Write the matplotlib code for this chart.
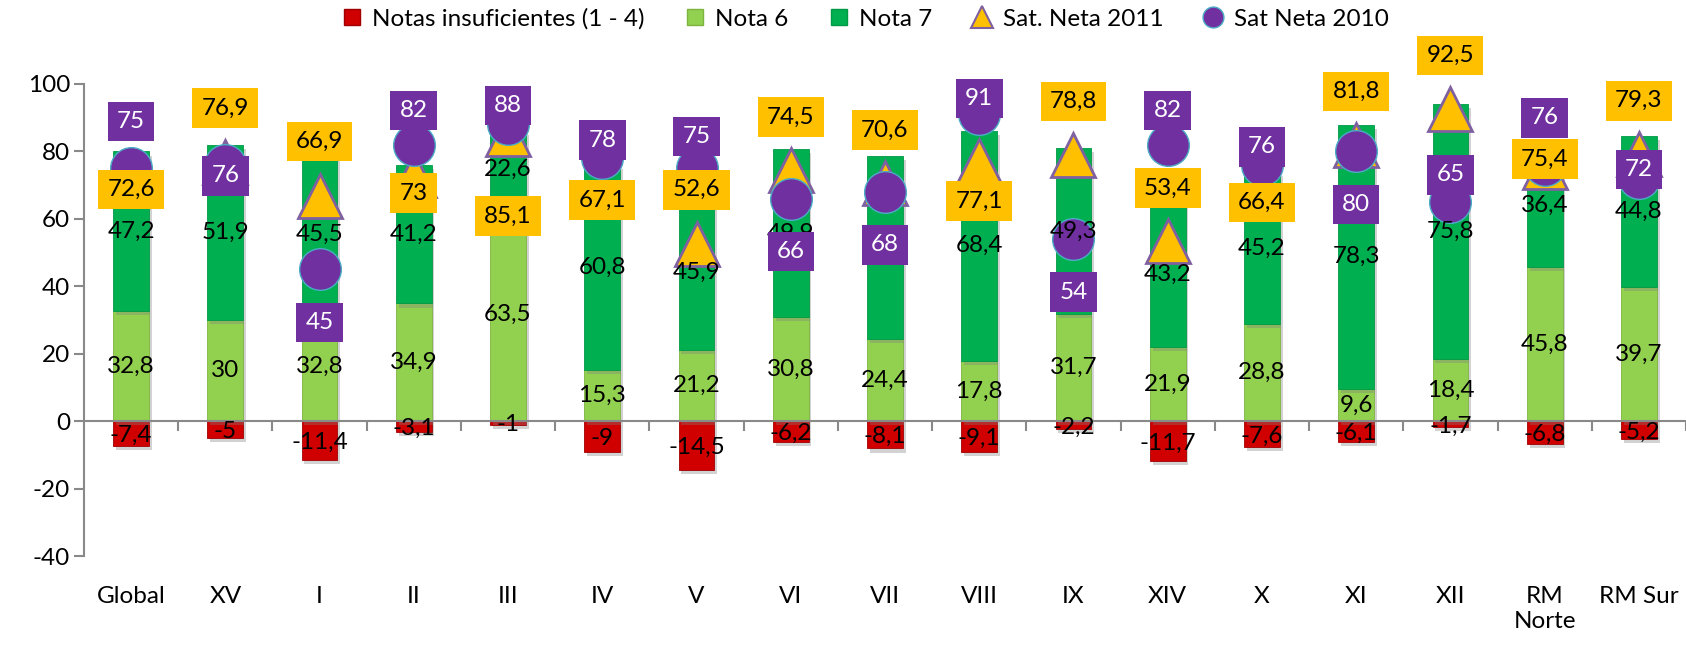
import numpy as np
import matplotlib
matplotlib.use("Agg")
import matplotlib.pyplot as plt
import matplotlib.patheffects as pe
from matplotlib.lines import Line2D

plt.rcParams["font.family"] = ["Lato", "DejaVu Sans"]
plt.rcParams["axes.unicode_minus"] = False

categories = ["Global", "XV", "I", "II", "III", "IV", "V", "VI", "VII", "VIII",
              "IX", "XIV", "X", "XI", "XII", "RM\nNorte", "RM Sur"]

insuficientes = [-7.4, -5, -11.4, -3.1, -1, -9, -14.5, -6.2, -8.1, -9.1,
                 -2.2, -11.7, -7.6, -6.1, -1.7, -6.8, -5.2]
nota6 = [32.8, 30, 32.8, 34.9, 63.5, 15.3, 21.2, 30.8, 24.4, 17.8,
         31.7, 21.9, 28.8, 9.6, 18.4, 45.8, 39.7]
nota7 = [47.2, 51.9, 45.5, 41.2, 22.6, 60.8, 45.9, 49.9, 54.3, 68.4,
         49.3, 43.2, 45.2, 78.3, 75.8, 36.4, 44.8]
sat_2011 = [72.6, 76.9, 66.9, 73, 85.1, 67.1, 52.6, 74.5, 70.6, 77.1,
            78.8, 53.4, 66.4, 81.8, 92.5, 75.4, 79.3]
sat_2010 = [75, 76, 45, 82, 88, 78, 75, 66, 68, 91,
            54, 82, 76, 80, 65, 76, 72]

# label offsets (pixels, up is positive), as dragged in the original
dy_2011 = [-13, 54, 54, -18, -82, -5, 54, 53, 53, -40, 54, 53, -5, 54, 54, 8, 53]
dy_2010 = [47, -11, -53, 34, 19, 18, 32, -53, -53, 16, -53, 34, 18, -53, 27, 47, 9]

RED = "#D00000"
LGREEN = "#92D050"
GREEN = "#00B050"
YELLOW = "#FFC000"
PURPLE = "#7030A0"
GRAY = "#898989"
FS = 17.5


def fmt(v):
    return f"{v:g}".replace(".", ",")


fig = plt.figure(figsize=(16.86, 6.47), dpi=100)
ax = fig.add_axes([0.0498, 0.1406, 0.9502, 0.7296])

x = np.arange(len(categories))
w = 0.38
shadow = [pe.SimplePatchShadow(offset=(2, -3), shadow_rgbFace="#808080", alpha=0.35), pe.Normal()]

b_ins = ax.bar(x, insuficientes, w, color=RED, edgecolor="#A00000", lw=0.6, zorder=2)
b_n6 = ax.bar(x, nota6, w, color=LGREEN, edgecolor="#7DB33F", lw=0.6, zorder=2)
b_n7 = ax.bar(x, nota7, w, bottom=nota6, color=GREEN, edgecolor="#009A45", lw=0.6, zorder=2)
for bars in (b_ins, b_n6, b_n7):
    for p in bars:
        p.set_path_effects(shadow)

ax.plot(x, sat_2011, ls="", marker="^", ms=32, mfc=YELLOW, mec="#7F60A0", mew=2,
        zorder=3, clip_on=False)
ax.plot(x, sat_2010, ls="", marker="o", ms=30, mfc=PURPLE, mec="#4BACC6", mew=1,
        zorder=4, clip_on=False)

# values inside the bars
for i in range(len(x)):
    ax.text(x[i], insuficientes[i] / 2 - 0.6, fmt(insuficientes[i]), ha="center", va="center",
            fontsize=FS, zorder=5)
    ax.text(x[i], nota6[i] / 2, fmt(nota6[i]), ha="center", va="center", fontsize=FS, zorder=5)
    ax.text(x[i], nota6[i] + nota7[i] / 2, fmt(nota7[i]), ha="center", va="center",
            fontsize=FS, zorder=5)

# boxed labels for the satisfaction markers
for i in range(len(x)):
    ax.annotate(fmt(sat_2011[i]), (x[i], sat_2011[i]), xytext=(0, dy_2011[i]),
                textcoords="offset pixels", ha="center", va="center", fontsize=FS,
                color="black", zorder=6, annotation_clip=False,
                bbox=dict(boxstyle="square,pad=0.38", fc=YELLOW, ec="none"))
    ax.annotate(fmt(sat_2010[i]), (x[i], sat_2010[i]), xytext=(0, dy_2010[i]),
                textcoords="offset pixels", ha="center", va="center", fontsize=FS,
                color="white", zorder=6, annotation_clip=False,
                bbox=dict(boxstyle="square,pad=0.38", fc=PURPLE, ec="none"))

ax.set_xlim(-0.5, len(x) - 0.5)
ax.set_ylim(-40, 100)
ax.set_yticks(range(-40, 101, 20))

for s in ("top", "right"):
    ax.spines[s].set_visible(False)
ax.spines["left"].set_color(GRAY)
ax.spines["left"].set_linewidth(1.5)
ax.spines["bottom"].set_position(("data", 0))
ax.spines["bottom"].set_color(GRAY)
ax.spines["bottom"].set_linewidth(1.5)
ax.spines["bottom"].set_zorder(2.5)

ax.set_xticks(x, categories)
ax.set_xticks(np.arange(0.5, len(x), 1), minor=True)
ax.tick_params(axis="x", which="major", length=0, pad=119, labelsize=FS)
ax.tick_params(axis="x", which="minor", length=7, width=1.5, color=GRAY, direction="out")
ax.tick_params(axis="y", length=7, width=1.5, color=GRAY, direction="out", pad=3, labelsize=FS)

handles = [
    Line2D([], [], ls="", marker="s", ms=12, mfc=RED, mec="#A00000"),
    Line2D([], [], ls="", marker="s", ms=12, mfc=LGREEN, mec="#7DB33F"),
    Line2D([], [], ls="", marker="s", ms=12, mfc=GREEN, mec="#009A45"),
    Line2D([], [], ls="", marker="^", ms=16, mfc=YELLOW, mec="#7F60A0", mew=1.5),
    Line2D([], [], ls="", marker="o", ms=15, mfc=PURPLE, mec="#4BACC6"),
]
labels = ["Notas insuficientes (1 - 4)", "Nota 6", "Nota 7", "Sat. Neta 2011", "Sat Neta 2010"]
fig.legend(handles, labels, loc="center", bbox_to_anchor=(0.513, 0.971), ncol=5,
           frameon=False, fontsize=FS, handlelength=0.9, handletextpad=0.4,
           columnspacing=1.6)

fig.savefig("out.png", dpi=100)
